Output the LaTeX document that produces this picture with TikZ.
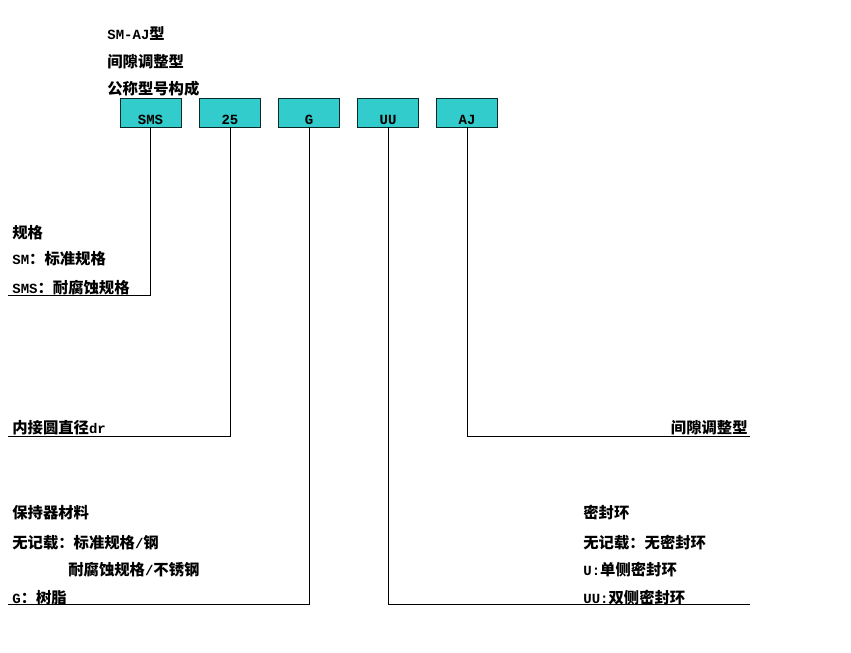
\documentclass[tikz,border=0pt]{standalone}
\usepackage{fontspec}
\setmainfont{Liberation Mono}
\newfontfamily\cjk{Noto Sans CJK SC}
\newcommand{\zh}[1]{{\cjk\fontsize{11.5pt}{13pt}\selectfont #1}}

\definecolor{boxColor}{RGB}{51,204,204}

\begin{document}
\begin{tikzpicture}[x=0.75pt,y=-0.75pt,line width=0.6pt,
  modbox/.style={draw=black!80!boxColor,fill=boxColor,minimum width=45.75pt,minimum height=21.75pt,inner sep=0pt},
  boxtext/.style={anchor=south,inner sep=2pt,font=\bfseries\fontsize{10.5pt}{12pt}\selectfont},
  txt/.style={anchor=west,inner sep=0pt,font=\bfseries\fontsize{10.5pt}{12pt}\selectfont}]
  \useasboundingbox (0,0) rectangle (851,653);
  % Title
  \node[txt] (title) at (107,34) {SM-AJ\zh{型}};
  \node[txt] (kind) at (107,62) {\zh{间隙调整型}};
  \node[txt] (scheme) at (107,89) {\zh{公称型号构成}};
  % Code boxes
  \node[modbox,label={[boxtext]south:SMS}] (sms) at (150.5,112.5) {};
  \node[modbox,label={[boxtext]south:25}] (dia) at (230,112.5) {};
  \node[modbox,label={[boxtext]south:G}] (cage) at (309,112.5) {};
  \node[modbox,label={[boxtext]south:UU}] (seal) at (388,112.5) {};
  \node[modbox,label={[boxtext]south:AJ}] (adj) at (467,112.5) {};
  % Leader ends
  \coordinate (smsEnd) at (8,295);
  \coordinate (diaEnd) at (8,436);
  \coordinate (cageEnd) at (8,604);
  \coordinate (sealEnd) at (750,604);
  \coordinate (adjEnd) at (750,436);
  \draw (sms.south) |- (smsEnd);
  \draw (dia.south) |- (diaEnd);
  \draw (cage.south) |- (cageEnd);
  \draw (seal.south) |- (sealEnd);
  \draw (adj.south) |- (adjEnd);
  % Left notes
  \node[txt] (spec) at (12,233) {\zh{规格}};
  \node[txt] (specSM) at (12,259) {SM\zh{：标准规格}};
  \node[txt] (specSMS) at (12,288) {SMS\zh{：耐腐蚀规格}};
  \node[txt] (diaText) at (12,428) {\zh{内接圆直径}dr};
  \node[txt] (cageHead) at (12,513) {\zh{保持器材料}};
  \node[txt] (cageStd) at (12,543) {\zh{无记载：标准规格}/\zh{钢}};
  \node[txt] (cageSus) at (68,570) {\zh{耐腐蚀规格}/\zh{不锈钢}};
  \node[txt] (cageG) at (12,598) {G\zh{：树脂}};
  % Right notes
  \node[txt] (sealHead) at (583,513) {\zh{密封环}};
  \node[txt] (sealNone) at (583,543) {\zh{无记载：无密封环}};
  \node[txt] (sealU) at (583,570) {U:\zh{单侧密封环}};
  \node[txt] (sealUU) at (583,598) {UU:\zh{双侧密封环}};
  \node[txt,anchor=east] (adjText) at (748,428) {\zh{间隙调整型}};
\end{tikzpicture}
\end{document}
